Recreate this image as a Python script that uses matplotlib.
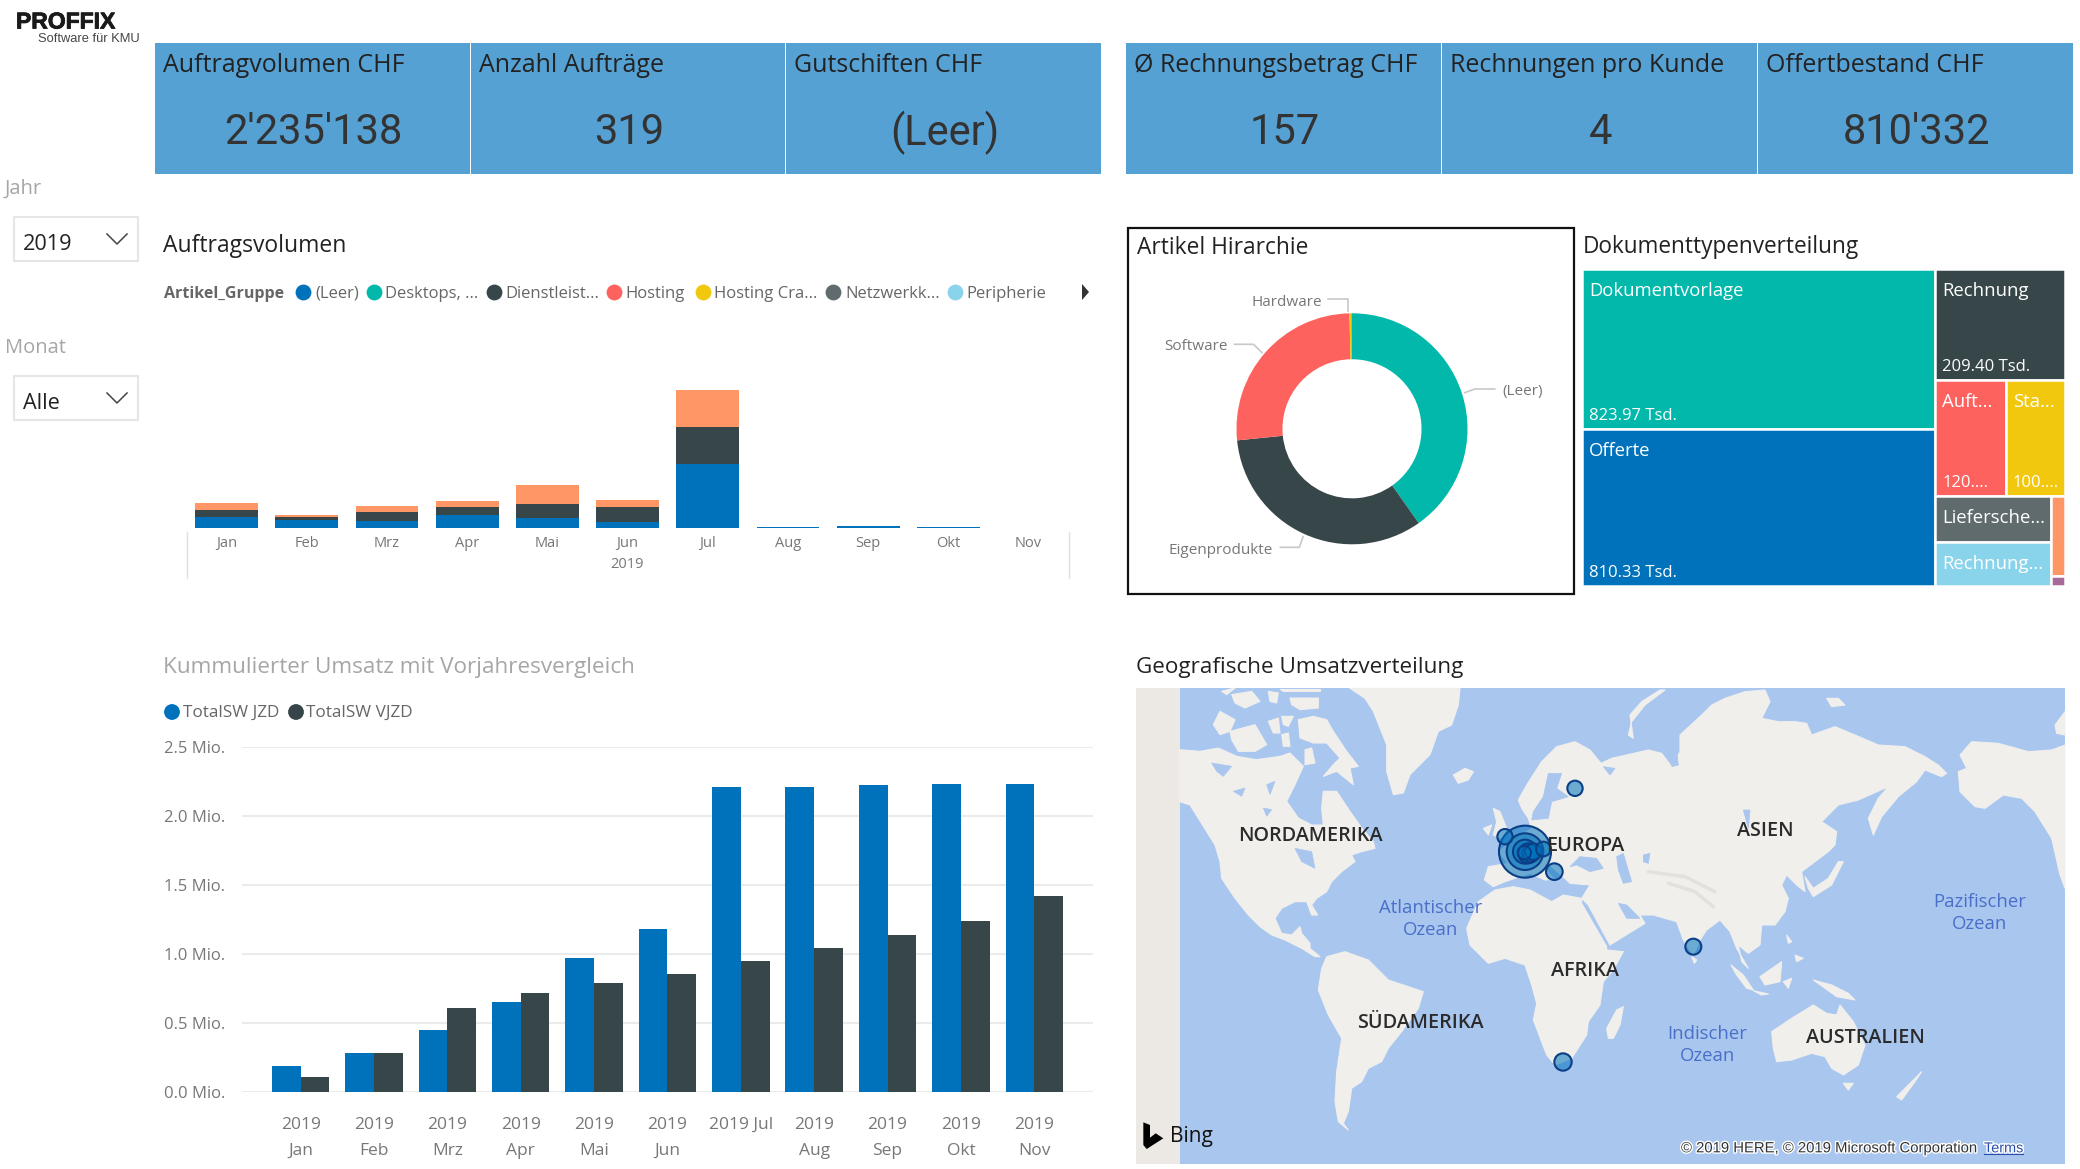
"""Power BI Verkaufsuebersicht (PROFFIX) nachgebaut mit matplotlib."""
import matplotlib
matplotlib.use("Agg")
from matplotlib import pyplot as plt
from matplotlib.patches import Rectangle, Polygon
import matplotlib.patheffects as pe

plt.rcParams['font.family'] = ['Open Sans', 'DejaVu Sans']

W_PX, H_PX = 2080, 1169

BLUE = '#0072BC'
TEAL = '#01B8AA'
DARK = '#374649'
RED = '#FD625E'
YELLOW = '#F2C80F'
GRAY = '#5F6B6D'
LIGHTBLUE = '#8AD4EB'
ORANGE = '#FE9666'
PURPLE = '#A66999'
CARD = '#55A1D4'
LAND = '#F0EFEC'
OCEAN = '#A9C6EF'

# kennzahlen
kpi_titles = ["Auftragvolumen CHF", "Anzahl Aufträge", "Gutschiften CHF",
              "Ø Rechnungsbetrag CHF", "Rechnungen pro Kunde", "Offertbestand CHF"]
kpi_values = ["2'235'138", "319", "(Leer)", "157", "4", "810'332"]

# auftragsvolumen pro monat, in tausend CHF
months = ["Jan", "Feb", "Mrz", "Apr", "Mai", "Jun", "Jul", "Aug", "Sep", "Okt", "Nov"]
vol_leer = [82, 62, 55, 97, 77, 45, 473, 8, 12, 10, 0]
vol_desktops = [0, 0, 0, 0, 0, 0, 4, 0, 0, 0, 0]
vol_dienst = [55, 20, 62, 57, 100, 112, 277, 0, 0, 0, 0]
vol_orange = [50, 12, 47, 45, 140, 52, 272, 0, 0, 0, 0]

legend_names = ["(Leer)", "Desktops, ...", "Dienstleist...", "Hosting",
                "Hosting Cra...", "Netzwerkk...", "Peripherie"]
legend_colors = [BLUE, TEAL, DARK, RED, YELLOW, GRAY, LIGHTBLUE]

# kumulierter umsatz, in Mio.
sw_jzd = [0.188, 0.282, 0.449, 0.652, 0.968, 1.18, 2.208, 2.213, 2.223, 2.235, 2.235]
sw_vjzd = [0.109, 0.285, 0.61, 0.719, 0.789, 0.857, 0.951, 1.042, 1.137, 1.236, 1.419]
sw_labels = ["2019\nJan", "2019\nFeb", "2019\nMrz", "2019\nApr", "2019\nMai", "2019\nJun",
             "2019 Jul\n ", "2019\nAug", "2019\nSep", "2019\nOkt", "2019\nNov"]

# artikel hierarchie (anteile in prozent)
donut_values = [40.2, 33.2, 26.25, 0.3, 0.05]
donut_colors = [TEAL, DARK, RED, YELLOW, GRAY]

# dokumenttypen, in tausend CHF
doc_names = ["Dokumentvorlage", "Offerte", "Rechnung", "Auft...", "Sta...",
             "Liefersche...", "Rechnung...", "", ""]
doc_values = [823.97, 810.33, 209.40, 120.5, 100.5, 78, 74, 16, 2]
doc_labels = ["823.97 Tsd.", "810.33 Tsd.", "209.40 Tsd.", "120....", "100....", "", "", "", ""]
doc_colors = [TEAL, BLUE, DARK, RED, YELLOW, GRAY, LIGHTBLUE, ORANGE, PURPLE]

# kartenumrisse, in 3-fachen pixeln ab der kartenecke
land_shapes = [
    # nordamerika
    [(134, 194), (195, 199), (250, 189), (305, 214), (365, 224), (435, 214), (465, 204), (505, 244),
     (480, 299), (455, 349), (490, 399), (530, 420),
     (565, 420), (560, 370), (565, 319), (605, 319), (645, 379), (680, 429), (715, 470),
     (720, 490), (680, 500), (650, 510), (660, 530), (620, 560), (590, 590), (575, 620), (545, 640),
     (530, 660), (548, 690), (530, 690), (515, 650), (480, 650), (440, 670), (420, 700), (440, 745),
     (470, 750), (495, 725), (500, 745), (525, 775), (525, 790), (555, 815), (540, 815), (500, 790),
     (450, 765), (410, 750), (375, 725), (340, 690), (300, 640), (260, 580), (255, 530), (240, 480),
     (190, 400), (165, 360), (134, 350)],
    # arktische inseln
    [(235, 119), (255, 79), (300, 104), (285, 139), (255, 149)],
    [(285, 139), (360, 119), (395, 179), (360, 199), (310, 199), (290, 164)],
    [(290, 29), (350, 19), (375, 49), (330, 69), (300, 54)],
    [(400, 19), (430, 24), (425, 54), (405, 49)],
    [(465, 39), (550, 39), (550, 69), (495, 74), (470, 59)],
    [(260, 19), (300, 9), (275, 29)],
    [(435, 12), (555, 12), (555, 19), (445, 19)],
    [(400, 109), (430, 99), (435, 144), (415, 144)],
    [(440, 94), (475, 94), (460, 124), (445, 119)],
    [(440, 149), (460, 144), (465, 184), (445, 184)],
    [(490, 104), (535, 94), (575, 104), (595, 139), (635, 199), (670, 244), (645, 249), (655, 299),
     (605, 259), (565, 274), (595, 239), (615, 219), (575, 174), (535, 174), (495, 159)],
    [(510, 194), (530, 189), (540, 234), (510, 239)],
    # groenland, island
    [(645, 10), (975, 10), (970, 60), (950, 120), (910, 139), (885, 209), (825, 269), (805, 324), (775, 329),
     (755, 259), (755, 179), (715, 79), (690, 40)],
    [(955, 270), (990, 250), (1015, 260), (1000, 285), (970, 295)],
    # eurasien
    [(1150, 345), (1175, 300), (1220, 230), (1265, 185), (1320, 170), (1365, 195), (1398, 235), (1430, 220),
     (1540, 195), (1580, 205), (1610, 245), (1635, 200), (1635, 150), (1700, 90), (1730, 60), (1770, 40),
     (1830, 20), (1890, 15), (1905, 50), (1880, 100), (1930, 110), (1980, 110), (2015, 115), (2030, 150),
     (2100, 125), (2160, 150), (2230, 180), (2310, 185), (2370, 215), (2410, 240), (2435, 265), (2420, 275),
     (2370, 255), (2345, 290), (2290, 335), (2240, 395), (2215, 450), (2200, 400), (2230, 340), (2260, 305),
     (2170, 345), (2110, 360), (2060, 410), (2105, 440), (2100, 480), (2080, 500), (2040, 530), (2000, 560),
     (2010, 620), (1985, 600), (1955, 570), (1940, 600), (1960, 640), (1950, 680), (1920, 720), (1880, 720),
     (1875, 780), (1840, 805), (1810, 780), (1820, 830), (1840, 850), (1805, 790), (1785, 740), (1755, 705),
     (1715, 735), (1695, 765), (1675, 810), (1645, 765), (1625, 710), (1555, 690), (1515, 690), (1530, 715),
     (1425, 780), (1360, 660), (1340, 640), (1365, 600), (1305, 595), (1290, 580), (1230, 585), (1185, 565),
     (1110, 590), (1075, 605), (1048, 585), (1060, 545), (1120, 535),
     (1090, 500), (1130, 470), (1190, 430), (1180, 400), (1160, 370)],
    # nowaja semlja
    [(1480, 150), (1490, 110), (1530, 60), (1590, 15), (1575, 15), (1520, 50), (1485, 90), (1495, 160)],
    # afrika
    [(995, 730), (1030, 650), (1080, 615), (1135, 605), (1185, 615), (1250, 650), (1285, 630), (1340, 640),
     (1340, 655), (1415, 785), (1415, 795), (1465, 800), (1435, 855), (1405, 890), (1395, 960), (1360, 1010),
     (1355, 1050), (1310, 1120), (1260, 1140), (1235, 1110), (1195, 1005), (1205, 955), (1190, 900), (1170, 840),
     (1110, 820), (1060, 835), (1005, 780)],
    # madagaskar
    [(1415, 1030), (1445, 975), (1465, 965), (1455, 1020), (1435, 1060), (1420, 1060)],
    # grossbritannien, irland
    [(1075, 370), (1095, 380), (1115, 430), (1100, 460), (1075, 450), (1085, 410)],
    [(1045, 430), (1070, 420), (1060, 450)],
    # suedamerika
    [(575, 815), (630, 800), (700, 825), (760, 885), (865, 920), (850, 970), (800, 1040), (760, 1090), (740, 1130),
     (700, 1150), (680, 1190), (650, 1210), (640, 1280), (625, 1315), (640, 1335), (610, 1310), (600, 1250),
     (605, 1160), (620, 1060), (580, 990), (550, 915), (560, 850)],
    # australien, tasmanien, neuseeland
    [(1910, 1040), (1970, 1000), (2035, 960), (2075, 985), (2105, 990), (2115, 960), (2155, 1010), (2190, 1080),
     (2170, 1140), (2125, 1170), (2090, 1150), (2070, 1115), (2030, 1105), (1970, 1125), (1925, 1130), (1915, 1090)],
    [(2125, 1195), (2155, 1195), (2140, 1215)],
    [(2285, 1235), (2330, 1190), (2360, 1160), (2340, 1190), (2300, 1245)],
    # inseln suedostasien
    [(2035, 885), (2090, 900), (2140, 925), (2160, 945), (2105, 935), (2070, 910)],
    [(1875, 875), (1940, 830), (1935, 890), (1890, 900)],
    [(1788, 840), (1825, 870), (1855, 915), (1835, 910), (1805, 870)],
    [(1855, 917), (1900, 927), (1880, 930)],
    [(1945, 890), (1970, 880), (1960, 910)],
    [(1955, 750), (1970, 770), (1960, 775)],
    [(1980, 810), (2005, 820), (1985, 830)],
    [(1670, 815), (1685, 825), (1678, 835)],
    # japan, sachalin
    [(2010, 575), (2020, 610), (2035, 635), (2090, 600), (2125, 530), (2110, 530), (2080, 580), (2035, 610)],
    # alaska und kanada am rechten rand
    [(2470, 260), (2495, 250), (2475, 210), (2510, 170), (2590, 175), (2680, 200), (2750, 195), (2790, 180),
     (2790, 610), (2775, 570), (2750, 460), (2700, 380), (2660, 340), (2605, 330), (2550, 370), (2520, 365),
     (2475, 320)],
    [(2760, 120), (2790, 80), (2790, 150), (2765, 145)],
    # neusibirische inseln
    [(2075, 40), (2110, 40), (2130, 60), (2090, 65)],
]
sea_shapes = [
    # ostsee
    [(1240, 265), (1280, 265), (1265, 310), (1300, 335), (1250, 350), (1240, 400), (1190, 405), (1195, 380), (1225, 335)],
    # schwarzes meer, adria, persischer golf
    [(1305, 545), (1335, 515), (1385, 520), (1405, 550), (1365, 560), (1325, 540)],
    [(1240, 540), (1290, 585), (1270, 590), (1235, 555)],
    [(1450, 655), (1475, 660), (1515, 700), (1475, 700)],
    # kaspisches meer, aralsee, baikal
    [(1445, 515), (1465, 505), (1490, 590), (1465, 595), (1450, 555)],
    [(1525, 510), (1545, 505), (1540, 535), (1525, 530)],
    [(1825, 375), (1845, 375), (1840, 430)],
    # weisses meer, ob
    [(1405, 245), (1440, 250), (1425, 270)],
    [(1610, 245), (1625, 195), (1630, 240)],
    # seen in kanada und usa
    [(230, 234), (290, 244), (265, 274), (245, 259)],
    [(295, 319), (330, 309), (320, 334)],
    [(395, 299), (420, 289), (405, 329)],
    [(385, 369), (410, 374), (395, 394)],
    [(480, 490), (530, 500), (540, 550), (500, 530)],
]
ridge_lines = [
    [(1600, 595), (1680, 620), (1735, 665)],
    [(1540, 560), (1650, 575), (1740, 620)],
]

# kartenbeschriftung
continent_names = ["NORDAMERIKA", "ASIEN", "AFRIKA", "SÜDAMERIKA", "AUSTRALIEN"]
continent_x = [527, 1892, 1350, 857, 2192]
continent_y = [452, 437, 857, 1015, 1058]
ocean_names = ["Atlantischer\nOzean", "Pazifischer\nOzean", "Indischer\nOzean"]
ocean_x = [888, 2535, 1717]
ocean_y = [703, 685, 1080]

# blasen
bubble_x = [1170, 1170, 1170, 1180, 1188, 1195, 1110, 1258, 1225, 1320, 1675, 1284, 1168]
bubble_y = [500, 500, 500, 505, 505, 500, 455, 560, 492, 310, 785, 1131, 503]
bubble_r = [78, 55, 36, 30, 26, 25, 23, 25, 22, 23, 24, 26, 20]

fig = plt.figure(figsize=(W_PX / 100, H_PX / 100), dpi=100, facecolor='white')


def axes_px(x0, y0, x1, y1):
    """Achsen aus pixelkoordinaten (y nach unten)."""
    return fig.add_axes([x0 / W_PX, 1 - y1 / H_PX, (x1 - x0) / W_PX, (y1 - y0) / H_PX])


# ebene fuer alles was frei positioniert ist
bg = axes_px(0, 0, W_PX, H_PX)
bg.set_xlim(0, W_PX)
bg.set_ylim(H_PX, 0)
bg.axis('off')


def put(x, y, s, size=13, color='#333333', ha='left', **kw):
    return bg.text(x, y, s, fontsize=size, color=color, ha=ha, va='center', **kw)


# logo
put(16, 22, "PROFFIX", size=16.5, color='#1a1a1a', weight='bold', family='Liberation Sans',
    path_effects=[pe.withStroke(linewidth=0.6, foreground='#1a1a1a')])
put(140, 39, "Software für KMU", size=9.3, color='#444444', ha='right', family='Liberation Sans')

# kennzahlkarten
card_edges = [(155, 470), (471, 785), (786, 1101), (1126, 1441), (1442, 1757), (1758, 2073)]
for i in range(6):
    x0, x1 = card_edges[i]
    bg.add_patch(Rectangle((x0, 43), x1 - x0, 131, fc=CARD, ec='none'))
    put(x0 + 8, 65, kpi_titles[i], size=18, color='#222222')
    put((x0 + x1) / 2 + 1, 132.5, kpi_values[i], size=30, color='#333333', ha='center', family='Roboto')

# slicer
for label, text, ylab, y0 in (("Jahr", "2019", 189, 217), ("Monat", "Alle", 348, 376)):
    put(5, ylab, label, size=14.5, color='#A6A6A6')
    bg.add_patch(Rectangle((14, y0), 124, 44, fc='white', ec='#E6E6E6', lw=1.5))
    put(23, y0 + 27.5, text, size=15.6, color='#222222')
    bg.plot([107, 117, 127], [y0 + 17, y0 + 27, y0 + 17], color='#444444', lw=1.1)

# titel
put(163, 246.5, "Auftragsvolumen", size=16.5, color='#222222')
put(163, 668, "Kummulierter Umsatz mit Vorjahresvergleich", size=16.2, color='#A6A6A6')
put(1137, 248, "Artikel Hirarchie", size=16.4, color='#222222')
put(1583, 247, "Dokumenttypenverteilung", size=16.3, color='#222222')
put(1135.5, 668, "Geografische Umsatzverteilung", size=16.2, color='#222222')

# legende auftragsvolumen
put(164, 293.5, "Artikel_Gruppe", size=11.5, color='#666666', weight='bold')
legend_dot_x = [303, 374, 494, 614, 703, 833, 955]
legend_txt_x = [315, 385, 505, 625, 714, 845, 966]
for i in range(7):
    bg.scatter([legend_dot_x[i]], [292], s=130, color=legend_colors[i], linewidths=0)
    put(legend_txt_x[i], 293.5, legend_names[i], size=12, color='#666666')
bg.add_patch(Polygon([(1082, 284), (1089, 292), (1082, 300)], fc='#333333', ec='none'))

# gestapelte balken
ax = axes_px(186.5, 388, 1068.7, 528)
bottom = [0] * 11
for vals, col in ((vol_leer, BLUE), (vol_desktops, TEAL), (vol_dienst, DARK), (vol_orange, ORANGE)):
    ax.bar(range(11), vals, bottom=bottom, width=0.785, color=col, linewidth=0)
    bottom = [b + v for b, v in zip(bottom, vals)]
ax.set_xlim(-0.5, 10.5)
ax.set_ylim(0, 1040)
ax.set_xticks(range(11), months)
ax.tick_params(axis='x', length=0, pad=6, labelsize=10.5, labelcolor='#777777')
ax.set_yticks([])
for s in ax.spines.values():
    s.set_visible(False)
ax.patch.set_alpha(0)
put(627, 564, "2019", size=10.5, color='#777777', ha='center')
bg.plot([187, 187], [532, 578], color='#E0E0E0', lw=1)
bg.plot([1069, 1069], [532, 578], color='#E0E0E0', lw=1)

# kumulierter umsatz
ax2 = axes_px(241.9, 747, 1093, 1092)
xs = list(range(11))
ax2.bar([x - 0.196 for x in xs], sw_jzd, width=0.392, color=BLUE, linewidth=0, zorder=3)
ax2.bar([x + 0.196 for x in xs], sw_vjzd, width=0.392, color=DARK, linewidth=0, zorder=3)
ax2.set_xlim(-0.8, 10.8)
ax2.set_ylim(0, 2.5)
ax2.set_yticks([0, 0.5, 1.0, 1.5, 2.0, 2.5], ["0.0 Mio.", "0.5 Mio.", "1.0 Mio.", "1.5 Mio.", "2.0 Mio.", "2.5 Mio."])
ax2.set_xticks(xs, sw_labels)
ax2.tick_params(axis='y', length=0, pad=12, labelsize=12, labelcolor='#777777')
ax2.tick_params(axis='x', length=0, pad=18, labelsize=12.5, labelcolor='#777777')
ax2.grid(axis='y', color='#EBEBEB', lw=1.5, zorder=0)
for s in ax2.spines.values():
    s.set_visible(False)
for lab in ax2.get_xticklabels():
    lab.set_linespacing(1.82)
bg.scatter([172, 296], [712, 712], s=130, color=[BLUE, DARK], linewidths=0)
put(183, 713, "TotalSW JZD", size=12.3, color='#666666')
put(306, 713, "TotalSW VJZD", size=12.3, color='#666666')

# ring
bg.add_patch(Rectangle((1127.5, 228), 446, 366, fc='none', ec='#111111', lw=1.6))
ax3 = axes_px(1352 - 115.5, 428.8 - 115.5, 1352 + 115.5, 428.8 + 115.5)
ax3.pie(donut_values, colors=donut_colors, startangle=90, counterclock=False, radius=1,
        wedgeprops={'width': 0.398, 'linewidth': 0})
ax3.set_xlim(-1, 1)
ax3.set_ylim(-1, 1)
put(1322, 302.5, "Hardware", size=11, color='#777777', ha='right')
put(1228, 347, "Software", size=11, color='#777777', ha='right')
put(1502, 391.5, "(Leer)", size=11, color='#777777')
put(1273, 550.5, "Eigenprodukte", size=11, color='#777777', ha='right')
bg.plot([1328, 1348, 1348], [298.7, 298.7, 310.7], color='#C8C8C8', lw=1.2)
bg.plot([1234.5, 1253.5, 1262], [344.3, 344.3, 352.7], color='#C8C8C8', lw=1.2)
bg.plot([1494.8, 1475, 1464.8], [389, 389, 392.7], color='#C8C8C8', lw=1.2)
bg.plot([1280.4, 1299.4, 1303], [547.3, 547.3, 536.7], color='#C8C8C8', lw=1.2)


# treemap aus den werten
def cell(x, y, w, h, i):
    bg.add_patch(Rectangle((x, y), w, h, fc=doc_colors[i], ec='white', lw=1.8))
    if doc_names[i]:
        put(x + 7, y + 22, doc_names[i], size=13.3, color='white')
    if doc_labels[i]:
        put(x + 7, y + h - 13, doc_labels[i], size=12, color='white')


tx, ty, tw, th = 1582, 269, 483, 317
total = sum(doc_values)
left = sum(doc_values[:2])
lw_ = tw * left / total
cell(tx, ty, lw_, th * doc_values[0] / left, 0)
cell(tx, ty + th * doc_values[0] / left, lw_, th * doc_values[1] / left, 1)
rx, rw = tx + lw_, tw - lw_
rest = total - left
h_r = th * doc_values[2] / rest
cell(rx, ty, rw, h_r, 2)
y_r = ty + h_r
pair = doc_values[3] + doc_values[4]
h_p = th * pair / rest
cell(rx, y_r, rw * doc_values[3] / pair, h_p, 3)
cell(rx + rw * doc_values[3] / pair, y_r, rw * doc_values[4] / pair, h_p, 4)
y_r += h_p
last = sum(doc_values[5:])
h_l = th * last / rest
col = doc_values[5] + doc_values[6]
w_c = rw * col / last
cell(rx, y_r, w_c, h_l * doc_values[5] / col, 5)
cell(rx, y_r + h_l * doc_values[5] / col, w_c, h_l * doc_values[6] / col, 6)
small = doc_values[7] + doc_values[8]
cell(rx + w_c, y_r, rw - w_c, h_l * doc_values[7] / small, 7)
cell(rx + w_c, y_r + h_l * doc_values[7] / small, rw - w_c, h_l * doc_values[8] / small, 8)

# karte
m = axes_px(1135, 685, 2075, 1165)
m.set_xlim(0, 2820)
m.set_ylim(1440, 0)
m.axis('off')
m.add_patch(Rectangle((2, 10), 132, 1426, fc='#ECE9E4', ec='none'))
m.add_patch(Rectangle((134, 10), 2656, 1426, fc=OCEAN, ec='none'))
for shape in land_shapes:
    m.add_patch(Polygon(shape, fc=LAND, ec=LAND, lw=0.8, joinstyle='round'))
for shape in sea_shapes:
    m.add_patch(Polygon(shape, fc=OCEAN, ec=OCEAN, lw=0.5))
for line in ridge_lines:
    m.plot([p[0] for p in line], [p[1] for p in line], color='#E3E1DB', lw=2.5, solid_capstyle='round')
for i, name in enumerate(continent_names):
    m.text(continent_x[i], continent_y[i], name, fontsize=14.2, weight='semibold', color='#2b2b2b',
           ha='center', va='center')
for i, name in enumerate(ocean_names):
    m.text(ocean_x[i], ocean_y[i], name, fontsize=13.3, color='#4A6FC9', ha='center', va='center', linespacing=1.3)
sizes = [(2 * r / 3 * 0.72) ** 2 for r in bubble_r]
m.scatter(bubble_x, bubble_y, s=sizes, facecolors=(0, 0.447, 0.737, 0.55), edgecolors='#0A3F86',
          linewidths=1.5, zorder=5)
m.text(1350, 482, "EUROPA", fontsize=14.2, weight='semibold', color='#2b2b2b', ha='center', va='center', zorder=6)
m.add_patch(Polygon([(25, 1312), (45, 1320), (45, 1358), (62, 1345), (47, 1335), (85, 1360), (35, 1392), (25, 1380)],
                    fc='black', ec='none', zorder=6))
m.text(105, 1355, "Bing", fontsize=15, color='#111111', va='center', zorder=6)
halo = [pe.withStroke(linewidth=2, foreground='white')]
m.text(1638, 1390, "© 2019 HERE, © 2019 Microsoft Corporation", fontsize=10.7, color='#333333', va='center',
       family='Liberation Sans', path_effects=halo, zorder=6)
m.text(2547, 1390, "Terms", fontsize=10.4, color='#2B4FA8', va='center', family='Liberation Sans',
       path_effects=halo, zorder=6)
m.plot([2547, 2665], [1408, 1408], color='#2B4FA8', lw=0.8, zorder=6)

fig.savefig("out.png", dpi=100)
